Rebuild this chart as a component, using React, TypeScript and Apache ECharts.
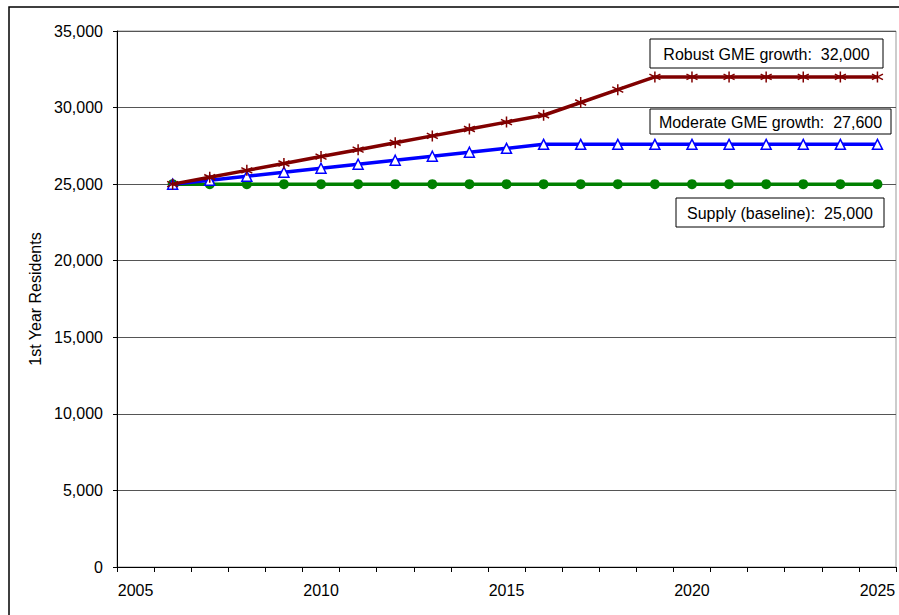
import React, { useEffect, useRef } from "react";
import * as echarts from "echarts";

const years = ["2005","2006","2007","2008","2009","2010","2011","2012","2013","2014","2015","2016","2017","2018","2019","2020","2021","2022","2023","2024","2025"];
const supply = [null,25000,25000,25000,25000,25000,25000,25000,25000,25000,25000,25000,25000,25000,25000,25000,25000,25000,25000,25000,25000];
const moderate = [null,25000,25260,25520,25780,26040,26300,26560,26820,27080,27340,27600,27600,27600,27600,27600,27600,27600,27600,27600,27600];
const robust = [null,25000,25450,25900,26350,26800,27250,27700,28150,28600,29050,29500,30330,31170,32000,32000,32000,32000,32000,32000,32000];
const seriesNames = ["Supply (baseline)", "Moderate GME growth", "Robust GME growth"];
const yAxisTitle = "1st Year Residents";

const FONT = "'Liberation Sans', Arial, sans-serif";
const FS = 16;
const fmt = (v: number) => v.toLocaleString("en-US");

function box(text: string, x: number, y: number, w: number, h: number) {
  return {
    type: "group",
    x, y,
    children: [
      { type: "rect", shape: { x: 0, y: 0, width: w, height: h }, style: { fill: "#fff", stroke: "#000", lineWidth: 1 } },
      { type: "text", x: w / 2, y: h / 2 + 1, style: { text, fill: "#000", font: `${FS}px ${FONT}`, align: "center", verticalAlign: "middle" } },
    ],
  };
}

export default function App() {
  const ref = useRef<HTMLDivElement>(null);
  useEffect(() => {
    const chart = echarts.init(ref.current!, null, { renderer: "svg" });
    const asterisk = "path://M5,0 L5,10 M0.7,2.5 L9.3,7.5 M0.7,7.5 L9.3,2.5";
    chart.setOption({
      animation: false,
      backgroundColor: "#fff",
      textStyle: { fontFamily: FONT, fontSize: FS },
      grid: { left: 117, right: 3, top: 31, bottom: 48, show: true, borderColor: "#999", borderWidth: 1, backgroundColor: "transparent" },
      xAxis: {
        type: "category",
        data: years,
        boundaryGap: true,
        axisLine: { lineStyle: { color: "#000", width: 1 } },
        axisTick: { show: true, interval: 0, length: 5, lineStyle: { color: "#000" } },
        axisLabel: { interval: (i: number) => i % 5 === 0, color: "#000", fontSize: FS, fontFamily: FONT, margin: 15 },
        splitLine: { show: false },
      },
      yAxis: {
        type: "value",
        min: 0, max: 35000, interval: 5000,
        name: yAxisTitle,
        nameLocation: "middle",
        nameRotate: 90,
        nameGap: 72,
        nameTextStyle: { color: "#000", fontSize: FS, fontFamily: FONT },
        axisLine: { show: true, lineStyle: { color: "#000", width: 1 } },
        axisTick: { show: true, length: 4, lineStyle: { color: "#000" } },
        axisLabel: { color: "#000", fontSize: FS, fontFamily: FONT, margin: 14, formatter: (v: number) => fmt(v) },
        splitLine: { show: true, lineStyle: { color: "#555", width: 1 } },
      },
      series: [
        {
          name: seriesNames[0], type: "line", data: supply,
          symbol: "circle", symbolSize: 10, showSymbol: true,
          lineStyle: { color: "#008000", width: 3.5 },
          itemStyle: { color: "#008000", borderColor: "#008000", borderWidth: 0 },
          z: 2,
        },
        {
          name: seriesNames[1], type: "line", data: moderate,
          symbol: "triangle", symbolSize: 10, showSymbol: true,
          lineStyle: { color: "#0000ff", width: 3.5 },
          itemStyle: { color: "#fff", borderColor: "#0000ff", borderWidth: 1.5 },
          z: 3,
        },
        {
          name: seriesNames[2], type: "line", data: robust,
          symbol: asterisk, symbolSize: 11, showSymbol: true,
          lineStyle: { color: "#800000", width: 3.5 },
          itemStyle: { color: "rgba(0,0,0,0)", borderColor: "#800000", borderWidth: 1.5 },
          z: 4,
        },
      ],
      graphic: [
        { type: "rect", shape: { x: 9, y: 7, width: 960, height: 700 }, style: { fill: "none", stroke: "#000", lineWidth: 1.5 }, z: 10 },
        box(`${seriesNames[2]}:  ${fmt(robust[robust.length - 1] as number)}`, 650, 39, 233, 29),
        box(`${seriesNames[1]}:  ${fmt(moderate[moderate.length - 1] as number)}`, 650, 109, 241, 25),
        box(`${seriesNames[0]}:  ${fmt(supply[supply.length - 1] as number)}`, 676, 198, 208, 29),
      ],
    });
    return () => chart.dispose();
  }, []);
  return <div ref={ref} style={{ position: "absolute", left: 0, top: 0, width: 899, height: 615 }} />;
}
